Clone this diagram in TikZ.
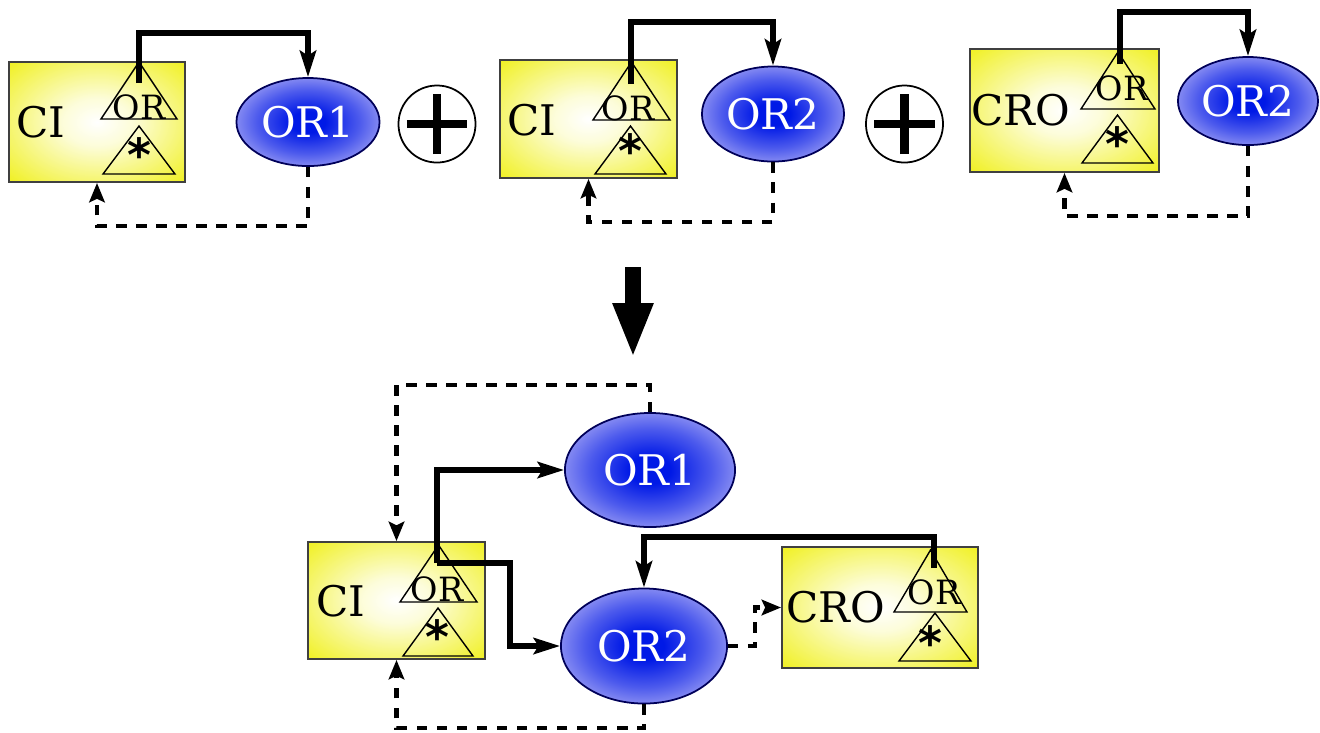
\documentclass[tikz,border=0pt]{standalone}
\usepackage{fontspec}
\setmainfont{DejaVu Serif}
\newfontfamily\starfont{DejaVu Sans}
\usepackage{xcolor}
\usetikzlibrary{arrows.meta,shapes.geometric}
\definecolor{celly}{RGB}{238,238,0}
\definecolor{orblue}{RGB}{0,25,230}
\definecolor{orpale}{RGB}{170,170,245}
\pgfdeclareradialshading{cellshade}{\pgfpointorigin}{color(0bp)=(white); color(10bp)=(celly!15!white); color(40bp)=(celly); color(70bp)=(celly)}
\pgfdeclareradialshading{orshade}{\pgfpointorigin}{color(0bp)=(orblue); color(6bp)=(orblue); color(18bp)=(orblue!55!orpale); color(30bp)=(orpale); color(70bp)=(orpale)}
\newcommand{\trigate}[4]{\draw[gateline] (#1-#3,#4) -- (#1+#3,#4) -- (#1,#2) -- cycle;}

\begin{document}
\begin{tikzpicture}[x=0.01cm,y=-0.01cm,
    cellbox/.style={draw=black!75,line width=0.5pt,shading=cellshade,inner sep=0pt},
    ornode/.style={ellipse,draw=blue!35!black,line width=0.5pt,shading=orshade,text=white,inner sep=0pt,font=\fontsize{12}{14}\selectfont},
    biglabel/.style={inner sep=0pt,font=\fontsize{12}{14}\selectfont},
    orlabel/.style={inner xsep=0pt,inner ysep=3pt,font=\fontsize{9.5}{10}\selectfont},
    starlabel/.style={inner sep=0pt,font=\fontsize{13}{14}\starfont\bfseries},
    gateline/.style={draw=black,line width=0.4pt},
    pluscirc/.style={circle,draw=black,line width=0.5pt,minimum size=0.77cm,inner sep=0pt},
    plusbar/.style={line width=2.3pt},
    flow/.style={line width=1.5pt,-{Stealth[length=7.5pt,width=4.6pt,inset=1.4pt]}},
    feedback/.style={line width=1.4pt,dash pattern=on 3pt off 2.7pt,-{Stealth[length=5.5pt,width=4.4pt,inset=1pt]}}]
  \useasboundingbox (0,0) rectangle (1320,732);

  % top row
  \node[cellbox,minimum width=1.76cm,minimum height=1.2cm] (ci1) at (97,122) {};
  \node[cellbox,minimum width=1.77cm,minimum height=1.18cm] (ci2) at (588.5,119) {};
  \node[cellbox,minimum width=1.89cm,minimum height=1.23cm] (cro3) at (1064.5,110.5) {};
  \node[ornode,minimum width=1.43cm,minimum height=0.88cm] (or1) at (308,122) {OR1};
  \node[ornode,minimum width=1.42cm,minimum height=0.95cm] (or2) at (773,114) {OR2};
  \node[ornode,minimum width=1.40cm,minimum height=0.88cm] (or3) at (1248,101) {OR2};
  \node[biglabel] (ci1lab) at (41,122) {CI};
  \node[biglabel] (ci2lab) at (532,120) {CI};
  \node[biglabel] (cro3lab) at (1021,110) {CRO};
  \trigate{139}{62}{38}{119}
  \trigate{139}{126}{36}{174}
  \trigate{631.5}{62}{38.5}{120}
  \trigate{630.5}{126}{35.5}{174}
  \trigate{1118}{52}{37}{109}
  \trigate{1117.5}{115}{35.5}{163}
  \node[orlabel] (ci1or) at (139,107) {OR};
  \node[orlabel] (ci2or) at (628,108) {OR};
  \node[orlabel] (cro3or) at (1122,88) {OR};
  \node[starlabel] (ci1star) at (139,155) {*};
  \node[starlabel] (ci2star) at (630,151) {*};
  \node[starlabel] (cro3star) at (1117,144) {*};
  \node[pluscirc] (plus1) at (437,124) {};
  \node[pluscirc] (plus2) at (904.5,124) {};
  \foreach \p in {plus1,plus2} {
    \draw[plusbar] ([xshift=-0.3cm]\p.center) -- ([xshift=0.3cm]\p.center);
    \draw[plusbar] ([yshift=-0.3cm]\p.center) -- ([yshift=0.3cm]\p.center);
  }
  \draw[flow] (ci1or.north) -- (ci1or.north |- 0,33) -| (or1.north);
  \draw[flow] (ci2or.north -| 631,0) -- (631,22) -| (or2.north);
  \draw[flow] (cro3or.north -| 1120,0) -- (1120,12) -| (or3.north);
  \draw[feedback] (or1.south) -- (or1.south |- 0,226) -| (ci1.south);
  \draw[feedback] (or2.south) -- (or2.south |- 0,222) -| (ci2.south);
  \draw[feedback] (or3.south) -- (or3.south |- 0,216) -| (cro3.south);

  % merge
  \coordinate (down1) at (633,267);
  \coordinate (down2) at (633,358);
  \draw[line width=4.6pt,-{Triangle[length=15.6pt,width=10.5pt]}] (down1) -- (down2);

  % bottom
  \node[cellbox,minimum width=1.77cm,minimum height=1.17cm] (cib) at (396.5,600.5) {};
  \node[cellbox,minimum width=1.96cm,minimum height=1.21cm] (crob) at (880,607.5) {};
  \node[ornode,minimum width=1.70cm,minimum height=1.14cm] (or1b) at (650,470) {OR1};
  \node[ornode,minimum width=1.66cm,minimum height=1.15cm] (or2b) at (644,646) {OR2};
  \node[biglabel] (cilab) at (341,601) {CI};
  \node[biglabel] (crolab) at (836,607) {CRO};
  \trigate{438.5}{545}{38.5}{602}
  \trigate{438}{608}{35}{656}
  \trigate{930.5}{550}{36.5}{612}
  \trigate{935}{613}{36}{661}
  \node[orlabel] (cibor) at (437,589) {OR};
  \node[orlabel] (crobor) at (934,592) {OR};
  \node[starlabel] (cibstar) at (437,637) {*};
  \node[starlabel] (crobstar) at (930,643) {*};
  \coordinate (split) at (437,563);
  \draw[flow] (split) |- (or1b.west);
  \draw[flow] (split) -- (split -| 510,0) |- (or2b.west);
  \draw[flow] (crobor.north) -- (crobor.north |- 0,537) -| (or2b.north);
  \draw[feedback] (or1b.north) -- (or1b.north |- 0,385) -| (cib.north);
  \draw[feedback] (or2b.south) -- (or2b.south |- 0,728) -| (cib.south);
  \draw[feedback] (or2b.east) -- (or2b.east -| 755,0) |- (crob.west);
\end{tikzpicture}
\end{document}
